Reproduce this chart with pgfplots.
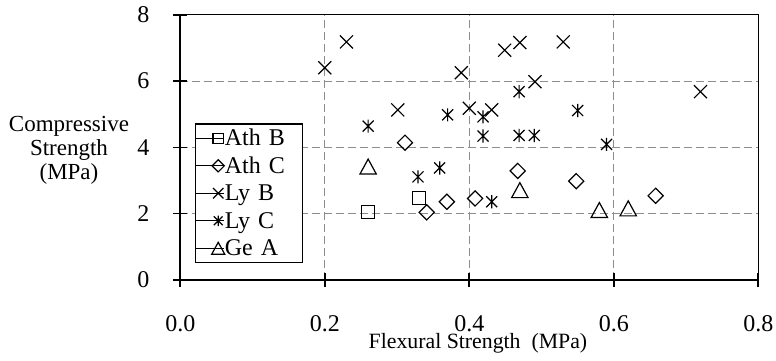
\documentclass[border=0pt]{standalone}
\usepackage{fontspec}
\setmainfont{Liberation Serif}
\usepackage{pgfplots}
\pgfplotsset{compat=1.18}
\definecolor{gridgray}{RGB}{140,140,140}

\pgfdeclareplotmark{sqm}{%
  \pgfpathrectangle{\pgfqpoint{-3.25pt}{-3.25pt}}{\pgfqpoint{6.5pt}{6.5pt}}%
  \pgfusepathqstroke}
\pgfdeclareplotmark{dim}{%
  \pgfpathmoveto{\pgfqpoint{0pt}{3.8pt}}%
  \pgfpathlineto{\pgfqpoint{3.8pt}{0pt}}%
  \pgfpathlineto{\pgfqpoint{0pt}{-3.8pt}}%
  \pgfpathlineto{\pgfqpoint{-3.8pt}{0pt}}%
  \pgfpathclose\pgfusepathqstroke}
\pgfdeclareplotmark{xm}{%
  \pgfpathmoveto{\pgfqpoint{-3.25pt}{-3.25pt}}%
  \pgfpathlineto{\pgfqpoint{3.25pt}{3.25pt}}%
  \pgfpathmoveto{\pgfqpoint{-3.25pt}{3.25pt}}%
  \pgfpathlineto{\pgfqpoint{3.25pt}{-3.25pt}}%
  \pgfusepathqstroke}
\pgfdeclareplotmark{stm}{%
  \pgfpathmoveto{\pgfqpoint{-2.75pt}{-2.75pt}}%
  \pgfpathlineto{\pgfqpoint{2.75pt}{2.75pt}}%
  \pgfpathmoveto{\pgfqpoint{-2.75pt}{2.75pt}}%
  \pgfpathlineto{\pgfqpoint{2.75pt}{-2.75pt}}%
  \pgfpathmoveto{\pgfqpoint{0pt}{-3.3pt}}%
  \pgfpathlineto{\pgfqpoint{0pt}{3.3pt}}%
  \pgfusepathqstroke}
\pgfdeclareplotmark{trm}{%
  \pgfpathmoveto{\pgfqpoint{0pt}{3.75pt}}%
  \pgfpathlineto{\pgfqpoint{4.1pt}{-3.75pt}}%
  \pgfpathlineto{\pgfqpoint{-4.1pt}{-3.75pt}}%
  \pgfpathclose\pgfusepathqstroke}

\pgfplotsset{
  pts/.style={only marks, black, line width=0.6pt,
    /pgfplots/legend image code/.code={%
      \path (0pt,0pt) -- (14pt,0pt);
      \draw[##1, only marks, every mark/.append style={scale=0.8}] plot coordinates {(11pt,0pt)};}},
}

\begin{document}
\fontsize{12}{12}\selectfont
\begin{tikzpicture}
\begin{axis}[
  name=ax,
  scale only axis,
  width=289pt, height=132.65pt,
  xmin=0, xmax=0.8, ymin=0, ymax=8,
  xtick={0,0.2,0.4,0.6,0.8},
  ytick={0,2,4,6,8},
  /pgf/number format/assume math mode=true,
  tick label style={font=\fontsize{12}{12}\selectfont},
  xticklabel style={/pgf/number format/fixed, /pgf/number format/fixed zerofill, /pgf/number format/precision=1, anchor=base, inner sep=0pt, yshift=-22.3pt},
  yticklabel style={anchor=east, inner sep=0pt, xshift=-11.8pt},
  tick align=center,
  major tick length=7pt,
  tick style={line width=0.8pt, black},
  xtick pos=bottom, ytick pos=left,
  grid=major,
  major grid style={dash pattern=on 4pt off 2pt, line width=0.5pt, gridgray},
  axis line style={line width=0.65pt},
  clip=false,
  xlabel={\fontsize{10.9}{12}\selectfont Flexural Strength~ (MPa)},
  ylabel={Compressive\\Strength\\(MPa)},
  every axis x label/.style={at={(axis description cs:0.515,-0.2585)}, anchor=base, inner sep=0pt},
  every axis y label/.style={at={(axis description cs:-0.1926,0.49)}, anchor=center, align=center, font=\fontsize{11.5}{12}\selectfont},
  legend cell align=left,
  legend style={at={(axis description cs:0.0254,0.5907)}, anchor=north west,
    draw=black, line width=0.65pt, fill=white,
    inner xsep=0pt, inner ysep=0.3pt, row sep=0pt, column sep=0pt,
    nodes={inner xsep=0pt, inner ysep=0pt, text height=10.6pt, text depth=3.15pt, text width=39pt, align=left, font=\fontsize{12}{13}\selectfont}},
]
\addplot[pts, mark=sqm] coordinates {
  (0.26,2.06) (0.33,2.48)
};
\addlegendentry{Ath B}
\addplot[pts, mark=dim] coordinates {
  (0.311,4.14) (0.341,2.04) (0.369,2.36) (0.408,2.46) (0.467,3.29) (0.548,2.98) (0.658,2.54)
};
\addlegendentry{Ath C}
\addplot[pts, mark=xm] coordinates {
  (0.20,6.40) (0.23,7.18) (0.301,5.13) (0.389,6.25) (0.40,5.18) (0.431,5.13)
  (0.449,6.93) (0.470,7.16) (0.491,5.98) (0.530,7.18) (0.720,5.68)
};
\addlegendentry{Ly B}
\addplot[pts, mark=stm] coordinates {
  (0.26,4.64) (0.329,3.11) (0.359,3.38) (0.370,4.98) (0.419,4.92) (0.419,4.34)
  (0.431,2.36) (0.469,5.68) (0.469,4.36) (0.490,4.36) (0.550,5.11) (0.590,4.09)
};
\addlegendentry{Ly C}
\addplot[pts, mark=trm] coordinates {
  (0.26,3.42) (0.47,2.71) (0.58,2.11) (0.62,2.16)
};
\addlegendentry{Ge A}
\draw[line width=1pt] (rel axis cs:0,1) -- (rel axis cs:0,0) -- (rel axis cs:1,0);
\end{axis}
\pgfresetboundingbox
\path ([shift={(-90.15pt,-40pt)}]ax.south west) rectangle ([shift={(297.85pt,140pt)}]ax.south west);
\end{tikzpicture}
\end{document}
